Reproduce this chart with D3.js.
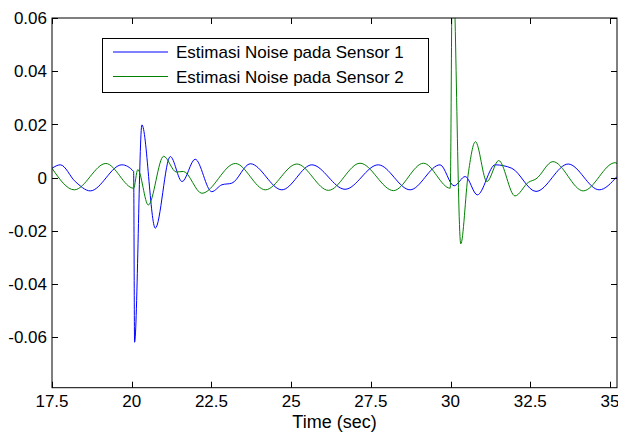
<!DOCTYPE html>
<html>
<head>
<meta charset="utf-8">
<script src="https://cdn.jsdelivr.net/npm/d3@7"></script>
<style>
  body { margin: 0; background: #fff; }
  svg { display: block; }
  text { font-family: "Liberation Sans", Arial, sans-serif; fill: #000; }
</style>
</head>
<body>
<div id="chart"></div>
<script>
;(function () {

    // values (time in sec, noise estimate)
    var sensor1Time = [17.50, 17.76, 18.23, 18.70, 19.69, 20.06, 20.09, 20.32, 20.74, 21.21,
        21.58, 21.99, 22.51, 22.83, 23.14, 23.72, 24.71, 25.65, 26.69, 27.73,
        28.73, 29.67, 30.11, 30.46, 30.84, 31.40, 31.92, 32.68, 33.69, 34.66, 35.22];
    var sensor1Noise = [0.0035, 0.0048, -0.0015, -0.0050, 0.0048, 0.0023, -0.0619, 0.0198, -0.0190, 0.0079,
        -0.0015, 0.0069, -0.0053, -0.0027, -0.0021, 0.0052, -0.0046, 0.0048, -0.0044, 0.0048,
        -0.0046, 0.0048, -0.0031, 0.0004, -0.0065, 0.0048, 0.0035, -0.0052, 0.0051, -0.0046, 0.0004];

    var sensor2Time = [17.50, 18.20, 19.19, 20.06, 20.19, 20.52, 21.00, 21.40, 21.62, 22.20,
        23.25, 24.19, 25.18, 26.17, 27.16, 28.21, 29.15, 29.99, 30.06, 30.32,
        30.55, 30.78, 31.14, 31.51, 32.02, 32.44, 32.68, 33.21, 34.16, 35.16, 35.22];
    var sensor2Noise = [0.0035, -0.0046, 0.0053, -0.0040, 0.0030, -0.0103, 0.0080, 0.0021, 0.0023, -0.0059,
        0.0053, -0.0046, 0.0051, -0.0048, 0.0054, -0.0049, 0.0054, -0.0040, 0.0850, -0.0249,
        0.0010, 0.0135, -0.0015, 0.0064, -0.0069, -0.0018, -0.0005, 0.0060, -0.0050, 0.0056, 0.0053];

    var xTicks = [17.5, 20, 22.5, 25, 27.5, 30, 32.5, 35];
    var xTickLabels = ['17.5', '20', '22.5', '25', '27.5', '30', '32.5', '35'];
    var yTicks = [0.06, 0.04, 0.02, 0, -0.02, -0.04, -0.06];
    var yTickLabels = ['0.06', '0.04', '0.02', '0', '-0.02', '-0.04', '-0.06'];

    var seriesNames = ['Estimasi Noise pada Sensor 1', 'Estimasi Noise pada Sensor 2'];
    var seriesColors = ['#0000ff', '#008000'];

    var width = 618
        , height = 437
        , left = 52
        , top = 18
        , right = 617
        , bottom = 387.7
        , tickLen = 6;

    var svg = d3.select('#chart').append('svg')
        .attr('width', width)
        .attr('height', height);

    var x = d3.scaleLinear().domain([17.5, 35.22]).range([left, right]);
    var y = d3.scaleLinear().domain([-0.079, 0.06]).range([bottom, top]);

    svg.append('clipPath').attr('id', 'plot-clip')
        .append('rect')
        .attr('x', left).attr('y', top)
        .attr('width', right - left).attr('height', bottom - top);

    var line = d3.line()
        .x(function (d) { return x(d[0]); })
        .y(function (d) { return y(d[1]); })
        .curve(d3.curveMonotoneX);

    var series = [
        d3.zip(sensor1Time, sensor1Noise),
        d3.zip(sensor2Time, sensor2Noise)
    ];

    var plot = svg.append('g').attr('clip-path', 'url(#plot-clip)');
    series.forEach(function (s, i) {
        plot.append('path')
            .datum(s)
            .attr('fill', 'none')
            .attr('stroke', seriesColors[i])
            .attr('stroke-width', 1)
            .attr('d', line);
    });

    // ticks, pointing inward on all four sides (box on)
    var ticks = svg.append('g').attr('stroke', '#000').attr('stroke-width', 1);
    xTicks.forEach(function (t) {
        var px = Math.round(x(t)) + 0.5;
        ticks.append('line').attr('x1', px).attr('x2', px).attr('y1', bottom).attr('y2', bottom - tickLen);
        ticks.append('line').attr('x1', px).attr('x2', px).attr('y1', top).attr('y2', top + tickLen);
    });
    yTicks.forEach(function (t) {
        var py = Math.round(y(t)) + 0.5;
        ticks.append('line').attr('x1', left).attr('x2', left + tickLen).attr('y1', py).attr('y2', py);
        ticks.append('line').attr('x1', right).attr('x2', right - tickLen).attr('y1', py).attr('y2', py);
    });

    svg.append('rect')
        .attr('x', left).attr('y', top)
        .attr('width', right - left).attr('height', bottom - top)
        .attr('fill', 'none')
        .attr('stroke', '#000')
        .attr('stroke-width', 1);

    svg.append('g').selectAll('text')
        .data(xTicks)
        .enter().append('text')
        .attr('x', function (d) { return x(d); })
        .attr('y', 407)
        .attr('text-anchor', 'middle')
        .style('font-size', '17px')
        .text(function (d, i) { return xTickLabels[i]; });

    svg.append('g').selectAll('text')
        .data(yTicks)
        .enter().append('text')
        .attr('x', 47)
        .attr('y', function (d) { return y(d); })
        .attr('dy', '0.36em')
        .attr('text-anchor', 'end')
        .style('font-size', '17px')
        .text(function (d, i) { return yTickLabels[i]; });

    svg.append('text')
        .attr('x', (left + right) / 2)
        .attr('y', 427.5)
        .attr('text-anchor', 'middle')
        .style('font-size', '18px')
        .text('Time (sec)');

    // legend
    var legend = svg.append('g');
    legend.append('rect')
        .attr('x', 102.5).attr('y', 38.5)
        .attr('width', 326).attr('height', 54)
        .attr('fill', '#fff')
        .attr('stroke', '#000')
        .attr('stroke-width', 1);

    seriesNames.forEach(function (name, i) {
        var ly = 52 + i * 24.5;
        legend.append('line')
            .attr('x1', 113).attr('x2', 168)
            .attr('y1', ly).attr('y2', ly)
            .attr('stroke', seriesColors[i])
            .attr('stroke-width', 1);
        legend.append('text')
            .attr('x', 176)
            .attr('y', ly)
            .attr('dy', '0.36em')
            .style('font-size', '17px')
            .text(name);
    });

}());
</script>
</body>
</html>
